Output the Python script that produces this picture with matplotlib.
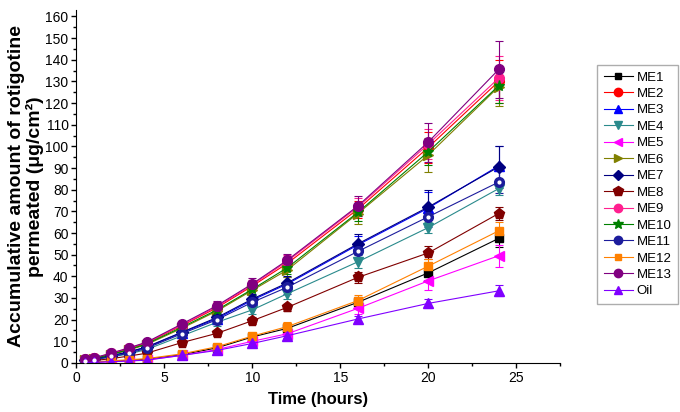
import numpy as np
import matplotlib
matplotlib.use("Agg")
import matplotlib.pyplot as plt
from matplotlib.ticker import MultipleLocator
from matplotlib.lines import Line2D

plt.rcParams['font.family'] = ['Liberation Sans', 'DejaVu Sans']

time_h = [0.5, 1, 2, 3, 4, 6, 8, 10, 12, 16, 20, 24]

names = ['ME1', 'ME2', 'ME3', 'ME4', 'ME5', 'ME6', 'ME7', 'ME8', 'ME9',
         'ME10', 'ME11', 'ME12', 'ME13', 'Oil']

me1 = [0.3, 0.4, 0.8, 1.2, 1.7, 3.8, 7.0, 12.0, 16.0, 28.0, 41.6, 57.5]
me2 = [1.6, 2.1, 4.2, 6.6, 9.2, 17.2, 25.5, 35.5, 46.0, 71.0, 99.5, 130.0]
me3 = [1.2, 1.7, 3.3, 5.0, 7.2, 14.0, 20.5, 29.0, 36.5, 54.5, 71.5, 91.0]
me4 = [1.0, 1.4, 2.8, 4.2, 6.2, 12.5, 18.8, 24.5, 32.0, 46.7, 62.5, 80.5]
me5 = [0.2, 0.3, 0.6, 1.0, 1.4, 3.5, 6.2, 10.0, 13.5, 25.2, 37.9, 49.5]
me6 = [1.4, 1.9, 3.8, 6.0, 8.5, 16.0, 24.0, 33.5, 43.0, 69.0, 96.0, 127.5]
me7 = [1.3, 1.8, 3.4, 5.2, 7.4, 14.2, 21.0, 29.5, 37.0, 55.0, 72.0, 90.5]
me8 = [0.8, 1.1, 2.0, 3.2, 4.5, 9.4, 13.7, 19.5, 25.7, 39.5, 50.8, 69.0]
me9 = [1.7, 2.2, 4.4, 6.8, 9.4, 17.5, 26.0, 36.0, 47.0, 72.0, 101.0, 131.5]
me10 = [1.5, 2.0, 4.0, 6.2, 8.8, 16.5, 24.5, 34.0, 44.0, 69.5, 97.5, 128.0]
me11 = [1.1, 1.5, 3.0, 4.5, 6.8, 13.5, 20.0, 28.0, 35.0, 51.5, 67.5, 83.5]
me12 = [0.3, 0.5, 1.0, 1.5, 2.0, 4.2, 7.5, 12.4, 16.8, 28.8, 44.7, 61.0]
me13 = [1.8, 2.3, 4.6, 7.0, 9.6, 18.0, 26.5, 36.5, 47.5, 72.5, 102.0, 135.5]
oil = [0.2, 0.3, 0.6, 0.9, 1.3, 3.5, 5.8, 9.0, 12.6, 20.3, 27.5, 33.3]

# error bars (SD)
err1 = [0.1, 0.1, 0.2, 0.3, 0.4, 0.8, 1.0, 1.5, 2.0, 2.5, 3.5, 4.0]
err2 = [0.2, 0.3, 0.5, 0.7, 1.0, 1.5, 2.0, 2.5, 3.0, 4.0, 7.0, 10.0]
err3 = [0.2, 0.3, 0.4, 0.6, 0.8, 1.5, 2.0, 2.5, 3.0, 4.0, 7.5, 9.0]
err4 = [0.2, 0.2, 0.4, 0.6, 0.8, 1.2, 1.8, 2.0, 2.5, 3.0, 2.5, 3.0]
err5 = [0.1, 0.1, 0.2, 0.3, 0.3, 0.8, 1.0, 1.5, 2.0, 2.5, 4.0, 5.0]
err6 = [0.2, 0.3, 0.5, 0.7, 1.0, 1.5, 2.5, 3.0, 3.5, 5.0, 8.0, 9.0]
err7 = [0.2, 0.3, 0.4, 0.6, 0.8, 1.5, 2.0, 2.5, 3.0, 4.5, 8.0, 9.5]
err8 = [0.1, 0.2, 0.3, 0.4, 0.5, 1.0, 1.2, 1.5, 1.5, 2.5, 3.0, 3.0]
err9 = [0.2, 0.3, 0.5, 0.7, 1.0, 1.5, 2.0, 2.5, 3.0, 4.0, 7.0, 10.0]
err10 = [0.2, 0.3, 0.5, 0.7, 1.0, 1.5, 2.0, 2.5, 3.0, 4.0, 6.0, 8.0]
err11 = [0.2, 0.2, 0.4, 0.6, 0.8, 1.5, 2.0, 2.5, 3.0, 3.5, 4.5, 5.0]
err12 = [0.1, 0.1, 0.2, 0.3, 0.4, 0.8, 1.0, 1.5, 2.0, 2.5, 3.5, 4.0]
err13 = [0.2, 0.3, 0.5, 0.7, 1.0, 1.5, 2.0, 2.5, 3.0, 4.5, 9.0, 13.0]
err_oil = [0.1, 0.1, 0.2, 0.2, 0.3, 0.6, 0.8, 1.0, 1.2, 1.5, 2.0, 2.5]

values = [me1, me2, me3, me4, me5, me6, me7, me8, me9, me10, me11, me12, me13, oil]
errors = [err1, err2, err3, err4, err5, err6, err7, err8, err9, err10, err11, err12, err13, err_oil]

colors = ['#000000', '#ff0000', '#0000ff', '#2a8a8c', '#ff00ff', '#808000', '#000080',
          '#800000', '#ff1f8f', '#008000', '#1c1c9c', '#ff8000', '#800080', '#8000ff']
markers = ['s', 'o', '^', 'v', '<', '>', 'D', 'p', 'o', '*', 'o', 's', 'o', '^']
msizes = [6, 7, 7, 7, 7, 7, 6, 8, 7, 8, 7, 6, 7, 7]

fig = plt.figure(figsize=(6.8, 4.12), dpi=100)
ax = fig.add_axes([0.112, 0.119, 0.712, 0.857])

handles = []
for name, y, e, c, m, s in zip(names, values, errors, colors, markers, msizes):
    ax.errorbar(time_h, y, yerr=e, color=c, marker=m, markersize=s, lw=0.8,
                elinewidth=0.8, capsize=3, capthick=0.8)
    if name == 'ME11':
        # little white highlight in the ME11 marker
        ax.plot(time_h, y, 'o', color='white', markersize=2, zorder=5)
    handles.append(Line2D([], [], color=c, marker=m, markersize=s - 1, lw=0.8))

ax.set_xlim(0, 27.5)
ax.set_ylim(0, 163)
ax.xaxis.set_major_locator(MultipleLocator(5))
ax.xaxis.set_minor_locator(MultipleLocator(2.5))
ax.yaxis.set_major_locator(MultipleLocator(10))
ax.yaxis.set_minor_locator(MultipleLocator(5))
ax.tick_params(which='major', direction='out', length=3.5, width=1, pad=2,
               labelsize=10)
ax.tick_params(which='minor', direction='out', length=2.2, width=1)
ax.spines['top'].set_visible(False)
ax.spines['right'].set_visible(False)

ax.set_xlabel('Time (hours)', fontsize=12, fontweight='bold', labelpad=5)
ax.set_ylabel('Accumulative amount of rotigotine\npermeated (μg/cm²)',
              fontsize=14, fontweight='bold', labelpad=1, linespacing=1.05)

fig.legend(handles, names, loc='upper left', bbox_to_anchor=(0.878, 0.843),
           borderaxespad=0, fontsize=9.5, frameon=True, fancybox=False,
           edgecolor='#999999', handlelength=2.2, handletextpad=0.3,
           labelspacing=0.32, borderpad=0.5)

fig.savefig('out.png', dpi=100)
